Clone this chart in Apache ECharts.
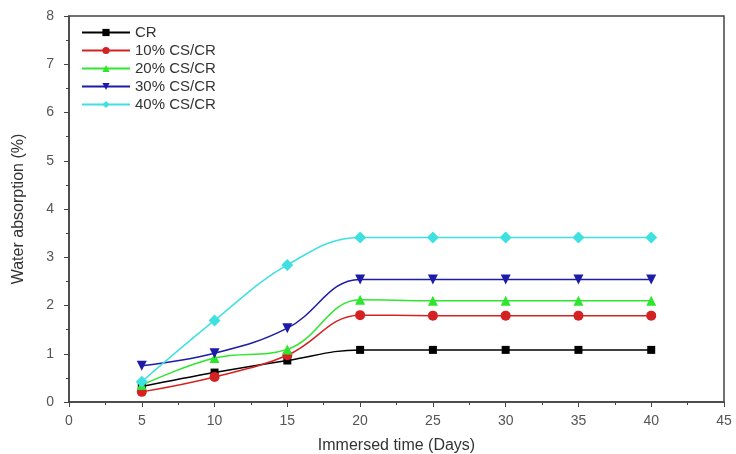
<!DOCTYPE html>
<html>
<head>
<meta charset="utf-8">
<script src="https://cdn.jsdelivr.net/npm/echarts@6/dist/echarts.min.js"></script>
<style>
  html, body { margin: 0; padding: 0; background: #fff; }
  #chart { width: 736px; height: 454px; }
</style>
</head>
<body>
<div id="chart"></div>
<script>
// immersion time (days)
var days = [5, 10, 15, 20, 25, 30, 35, 40];

// water absorption (%)
var cr      = [0.32, 0.61, 0.86, 1.08, 1.08, 1.08, 1.08, 1.08];
var cs10    = [0.21, 0.52, 0.97, 1.80, 1.79, 1.79, 1.79, 1.79];
var cs20    = [0.35, 0.91, 1.09, 2.12, 2.10, 2.10, 2.10, 2.10];
var cs30    = [0.75, 1.01, 1.53, 2.54, 2.54, 2.54, 2.54, 2.54];
var cs40    = [0.42, 1.69, 2.84, 3.41, 3.41, 3.41, 3.41, 3.41];

var names   = ["CR", "10% CS/CR", "20% CS/CR", "30% CS/CR", "40% CS/CR"];
var colors  = ["#000000", "#d42222", "#2ee62e", "#1c1ca8", "#3fe0e0"];
var symbols = ["rect", "circle", "triangle", "path://M0,0 L10,0 L5,9 Z", "diamond"];
var sizes   = [8, 10, 10, 10, 12];

function pairs(vals) {
  return days.map(function (d, i) { return [d, vals[i]]; });
}

var all = [cr, cs10, cs20, cs30, cs40];
var series = all.map(function (vals, i) {
  return {
    name: names[i],
    type: "line",
    smooth: 0.4,
    data: pairs(vals),
    symbol: symbols[i],
    symbolSize: sizes[i],
    itemStyle: { color: colors[i] },
    lineStyle: { color: colors[i], width: 1.5 }
  };
});

var chart = echarts.init(document.getElementById("chart"));
chart.setOption({
  animation: false,
  textStyle: { fontFamily: "Liberation Sans, Arial, sans-serif" },
  grid: {
    left: 69, right: 12, top: 16, bottom: 52,
    outerBoundsMode: "none",
    containLabel: false,
    show: true, borderColor: "#444", borderWidth: 1.5
  },
  legend: {
    orient: "vertical",
    left: 76, top: 20,
    itemWidth: 48, itemHeight: 9,
    itemGap: 3,
    textStyle: { fontSize: 15, color: "#333" },
    data: names
  },
  xAxis: {
    type: "value",
    min: 0, max: 45, interval: 5,
    name: "Immersed time (Days)",
    nameLocation: "middle",
    nameGap: 36,
    nameTextStyle: { fontSize: 16, color: "#333" },
    axisLine: { lineStyle: { color: "#444", width: 1.5 } },
    axisTick: { inside: false, length: 5, lineStyle: { color: "#444" } },
    minorTick: { show: true, splitNumber: 2, length: 3, lineStyle: { color: "#444" } },
    axisLabel: { fontSize: 14, color: "#555", margin: 12 },
    splitLine: { show: false }
  },
  yAxis: {
    type: "value",
    min: 0, max: 8, interval: 1,
    name: "Water absorption (%)",
    nameLocation: "middle",
    nameGap: 42,
    nameTextStyle: { fontSize: 16, color: "#333" },
    axisLine: { show: true, lineStyle: { color: "#444", width: 1.5 } },
    axisTick: { show: true, inside: false, length: 5, lineStyle: { color: "#444" } },
    minorTick: { show: true, splitNumber: 2, length: 3, lineStyle: { color: "#444" } },
    axisLabel: { fontSize: 14, color: "#555", margin: 15 },
    splitLine: { show: false }
  },
  series: series
});
</script>
</body>
</html>
